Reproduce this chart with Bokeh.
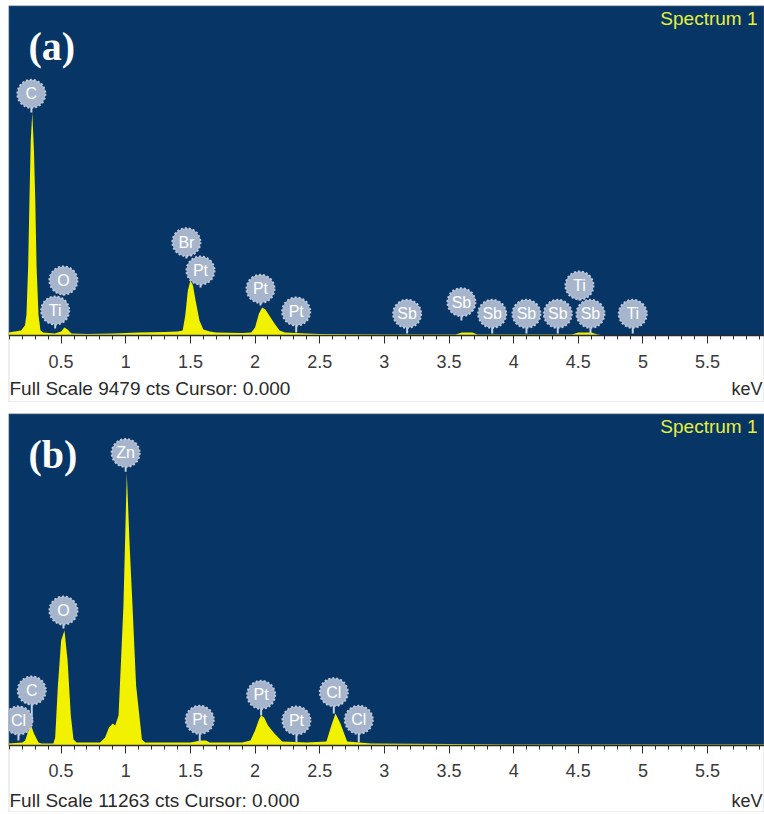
from bokeh.plotting import figure
from bokeh.models import (Label, FixedTicker, CustomJSTickFormatter, Range1d,
                          ColumnDataSource, BoxAnnotation)
from bokeh.layouts import column
from bokeh.core.properties import value
from bokeh.embed import file_html
from bokeh.resources import INLINE

# ---------------- data ----------------
tick_values = [0.5, 1, 1.5, 2, 2.5, 3, 3.5, 4, 4.5, 5, 5.5]
tick_labels = ["0.5", "1", "1.5", "2", "2.5", "3", "3.5", "4", "4.5", "5", "5.5"]

full_scale_a = 9479
full_scale_b = 11263

# spectrum (a): energy (keV) and counts
energy_a = [0.093, 0.19, 0.22, 0.232, 0.245, 0.255, 0.265, 0.277, 0.29, 0.30, 0.31, 0.325,
            0.34, 0.36,
            0.45, 0.5, 0.525, 0.55, 0.58, 0.7, 0.9, 1.1, 1.3, 1.4,
            1.44, 1.46, 1.48, 1.50, 1.52, 1.54, 1.57, 1.60, 1.65, 1.7, 1.9,
            1.97, 2.0, 2.03, 2.055, 2.08, 2.11, 2.15, 2.19, 2.23, 2.4, 2.5, 3.0,
            3.55, 3.6, 3.68, 3.72, 4.45, 4.5, 4.6, 4.65, 4.7, 5.94]
counts_a = [86, 144, 287, 600, 2000, 3900, 5600, 6405, 5300, 3900, 2000, 600,
            150, 86,
            57, 115, 230, 172, 57, 43, 57, 86, 101, 115,
            144, 574, 1292, 1580, 1436, 1005, 431, 172, 115, 86, 72,
            86, 230, 632, 804, 747, 574, 345, 144, 86, 57, 43, 29,
            29, 86, 86, 29, 29, 86, 86, 29, 0, 0]

# spectrum (b)
energy_b = [0.093, 0.2, 0.222, 0.245, 0.268, 0.29, 0.325, 0.35, 0.44, 0.454, 0.475, 0.5,
            0.526, 0.55, 0.575, 0.596, 0.62, 0.8, 0.84, 0.87, 0.9, 0.918, 0.944, 0.965,
            0.982, 1.008, 1.03, 1.052, 1.08, 1.125, 1.15, 1.5, 1.58, 1.62, 1.65, 1.9,
            1.964, 2.0, 2.03, 2.047, 2.07, 2.1, 2.15, 2.21, 2.4, 2.552, 2.59, 2.622,
            2.66, 2.712, 2.9, 3.5, 4.0, 5.94]
counts_b = [68, 102, 170, 475, 678, 407, 102, 68, 68, 271, 2034, 3560,
            3899, 2882, 1017, 203, 102, 102, 271, 610, 746, 678, 1017, 3051,
            4746, 9255, 6780, 4746, 2034, 203, 102, 102, 170, 170, 102, 102,
            170, 509, 881, 1017, 949, 678, 407, 136, 102, 136, 678, 1085,
            746, 136, 68, 51, 34, 34]

# element markers: name, energy, marker height (counts), stem foot (counts)
elem_a = ["C", "O", "Ti", "Br", "Pt", "Pt", "Pt", "Sb", "Sb", "Sb", "Sb", "Sb", "Ti", "Sb", "Ti"]
elem_a_kev = [0.27, 0.518, 0.454, 1.469, 1.578, 2.042, 2.318, 3.176, 3.596, 3.834, 4.099, 4.341, 4.509, 4.594, 4.921]
elem_a_top = [6942, 1580, 718, 2680, 1867, 1341, 689, 623, 956, 623, 623, 623, 1436, 623, 623]
elem_a_foot = [6405, 1149, 201, 2211, 1379, 862, 86, 57, 431, 57, 57, 57, 1005, 57, 57]

elem_b = ["Cl", "C", "O", "Zn", "Pt", "Pt", "Pt", "Cl", "Cl"]
elem_b_kev = [0.17, 0.273, 0.518, 0.999, 1.572, 2.047, 2.32, 2.609, 2.802]
elem_b_top = [848, 1865, 4577, 9923, 871, 1719, 848, 1807, 871]
elem_b_foot = [170, 746, 3966, 9289, 102, 1017, 102, 1085, 102]

BG = "#073565"
YELLOW = "#f2f200"
SANS = "Liberation Sans"


def make_panel(tag, energy, counts, full_scale, names, kev, top, foot,
               height, frame_h, below_counts, foot_text_y):
    p = figure(width=756, height=height, x_range=Range1d(0.093, 5.94),
               y_range=Range1d(-below_counts, full_scale), output_backend="svg",
               toolbar_location=None, y_axis_location=None,
               min_border_left=0, min_border_right=0, min_border_top=0,
               min_border_bottom=0,
               background_fill_color="white", border_fill_color="white",
               outline_line_color=None)
    p.grid.visible = False

    # dark plotting area above the energy axis
    p.add_layout(BoxAnnotation(bottom=0, fill_color=BG, fill_alpha=1,
                               line_color=None, level="underlay"))

    p.varea(x=energy, y1=[0] * len(energy), y2=counts, fill_color=YELLOW)

    src = ColumnDataSource(dict(x=kev, top=top, foot=foot, name=names))
    p.segment(x0="x", y0="foot", x1="x", y1="top", source=src,
              line_color="#c9d2e0", line_width=2)
    p.scatter(x="x", y="top", source=src, size=28, marker="circle",
              fill_color="#a6b5cc", line_color="#bfcadb", line_width=2,
              line_dash="2 2")
    p.text(x="x", y="top", text="name", source=src, text_color="white",
           text_font=value(SANS), text_font_size="16px",
           text_align="center", text_baseline="middle")

    ax = p.xaxis[0]
    ax.fixed_location = 0
    ax.ticker = FixedTicker(ticks=tick_values,
                            minor_ticks=[round(0.1 * k, 1) for k in range(1, 60)])
    ax.formatter = CustomJSTickFormatter(
        args=dict(vals=tick_values, labs=tick_labels),
        code="const i = vals.indexOf(tick); return i >= 0 ? labs[i] : '';")
    ax.axis_line_color = "#2a2a2a"
    ax.axis_line_width = 1.5
    ax.major_tick_line_color = "#2a2a2a"
    ax.minor_tick_line_color = "#2a2a2a"
    ax.major_tick_out = 8
    ax.major_tick_in = 0
    ax.minor_tick_out = 4
    ax.minor_tick_in = 0
    ax.major_label_standoff = 11
    ax.major_label_text_font = SANS
    ax.major_label_text_font_size = "18px"
    ax.major_label_text_color = "#3a3a3a"

    p.add_layout(Label(x=1, y=foot_text_y, x_units="screen", y_units="screen",
                       text="Full Scale %d cts Cursor: 0.000" % full_scale,
                       text_font=SANS, text_font_size="19px", text_color="#2a2a2a",
                       text_align="left", text_baseline="middle"))
    p.add_layout(Label(x=754, y=foot_text_y, x_units="screen", y_units="screen",
                       text="keV", text_font=SANS, text_font_size="18px",
                       text_color="#2a2a2a", text_align="right", text_baseline="middle"))
    p.add_layout(Label(x=749, y=height - 13, x_units="screen", y_units="screen",
                       text="Spectrum 1", text_font=SANS, text_font_size="19px",
                       text_color="#e8f03a", text_align="right", text_baseline="middle"))
    p.add_layout(Label(x=20, y=height - 41, x_units="screen", y_units="screen",
                       text=tag, text_font="Liberation Serif", text_font_style="bold",
                       text_font_size="40px", text_color="white",
                       text_align="left", text_baseline="middle"))
    # thin grey frame round the panel
    p.add_layout(BoxAnnotation(fill_alpha=0, line_color="#8a8a8a", line_width=2))
    return p


# panel (a): 330 px of plot for 9479 cts, 67 px white strip below
pa = make_panel("(a)", energy_a, counts_a, full_scale_a, elem_a, elem_a_kev,
                elem_a_top, elem_a_foot, 397, 330, 1924, 14)
# panel (b): 332 px of plot for 11263 cts, 67 px white strip below
pb = make_panel("(b)", energy_b, counts_b, full_scale_b, elem_b, elem_b_kev,
                elem_b_top, elem_b_foot, 399, 332, 2273, 12)

layout = column(pa, pb, spacing=11, margin=(5, 0, 0, 8))
open("out.html", "w").write(file_html(layout, INLINE))
